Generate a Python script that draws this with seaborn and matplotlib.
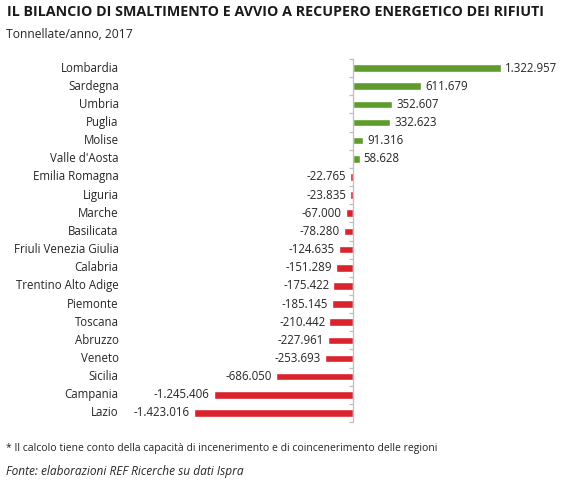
import matplotlib
matplotlib.use("Agg")
import matplotlib.pyplot as plt
import matplotlib.transforms as mtransforms
import seaborn as sns
import pandas as pd
import numpy as np

regions = ["Lombardia", "Sardegna", "Umbria", "Puglia", "Molise", "Valle d'Aosta",
           "Emilia Romagna", "Liguria", "Marche", "Basilicata", "Friuli Venezia Giulia",
           "Calabria", "Trentino Alto Adige", "Piemonte", "Toscana", "Abruzzo", "Veneto",
           "Sicilia", "Campania", "Lazio"]
values = [1322957, 611679, 352607, 332623, 91316, 58628,
          -22765, -23835, -67000, -78280, -124635,
          -151289, -175422, -185145, -210442, -227961, -253693,
          -686050, -1245406, -1423016]

title = "IL BILANCIO DI SMALTIMENTO E AVVIO A RECUPERO ENERGETICO DEI RIFIUTI"
subtitle = "Tonnellate/anno, 2017"
footnote = "* Il calcolo tiene conto della capacità di incenerimento e di coincenerimento delle regioni"
source = "Fonte: elaborazioni REF Ricerche su dati Ispra"

GREEN = "#5e9c2c"
RED = "#d9232d"

sns.set_theme(style="white")
plt.rcParams["font.family"] = ["Open Sans", "DejaVu Sans"]

df = pd.DataFrame({"region": regions, "value": values})
df["sign"] = np.where(df["value"] >= 0, "pos", "neg")

fig = plt.figure(figsize=(5.64, 4.84), dpi=100)
W, H = 564, 484
ax = fig.add_axes([125 / W, (H - 422) / H, (545 - 125) / W, (422 - 59) / H])

sns.barplot(data=df, x="value", y="region", hue="sign", orient="h",
            palette={"pos": GREEN, "neg": RED}, dodge=False, legend=False,
            width=0.42, ax=ax, saturation=1)

scale = 8950
ax.set_xlim(-(353 - 125) * scale, (545 - 353) * scale)
ax.set_ylim(len(regions) - 0.5, -0.5)

for cont in ax.containers:
    labs = []
    for bar in cont:
        w = bar.get_width()
        if np.isnan(w):
            labs.append("")
        else:
            labs.append(f"{int(round(w)):,}".replace(",", "."))
    ax.bar_label(cont, labels=labs, padding=3, fontsize=8.3, color="#262626")

for s in ["top", "right", "bottom"]:
    ax.spines[s].set_visible(False)
ax.spines["left"].set_position(("data", 0))
ax.spines["left"].set_color("#bfbfbf")
ax.spines["left"].set_linewidth(0.9)
ax.set_xticks([])
ax.set_yticks(np.arange(len(regions)))
ax.set_yticklabels([])
ax.tick_params(axis="y", which="major", length=0)
ax.set_yticks(np.arange(len(regions) + 1) - 0.5, minor=True)
ax.tick_params(axis="y", which="minor", direction="out", length=3, color="#bfbfbf", width=0.9, left=True)
ax.set_xlabel("")
ax.set_ylabel("")

trans = mtransforms.blended_transform_factory(ax.transAxes, ax.transData)
for i, r in enumerate(regions):
    ax.text(-0.015, i, r, transform=trans, ha="right", va="center", fontsize=8.3, color="#262626")

fig.text(7 / W, 1 - 12 / H, title, ha="left", va="center", fontsize=10.3, fontweight="bold", color="#1a1a1a")
fig.text(6 / W, 1 - 34 / H, subtitle, ha="left", va="center", fontsize=8.7, color="#262626")
fig.text(6 / W, 1 - 449 / H, footnote, ha="left", va="center", fontsize=7.45, color="#262626")
fig.text(6 / W, 1 - 471 / H, source, ha="left", va="center", fontsize=8.6, style="italic", color="#262626")

fig.savefig("out.png", dpi=100)
